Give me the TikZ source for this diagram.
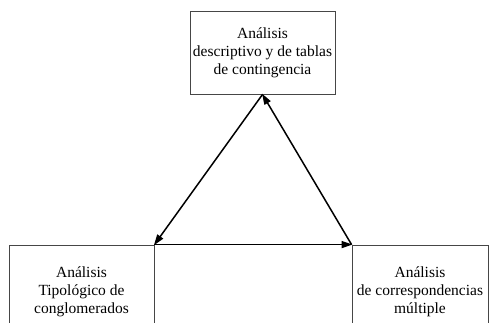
\documentclass[tikz,border=0pt]{standalone}
\usepackage{fontspec}
\setmainfont{Liberation Serif}
\usepackage{tikz}
\usetikzlibrary{positioning, arrows.meta}
\definecolor{boxGray}{RGB}{70, 70, 70}
\tikzset{
    base/.style={
        font=\fontsize{15.5}{18}\selectfont,
        align=center
    },
    block/.style={
        base,
        rectangle,
        draw=boxGray,
        line width=0.9pt,
        inner sep=0pt
    },
    flow/.style={
        -{Triangle[length=11pt, width=7pt]},
        line width=1.5pt,
        color=black,
        shorten >=-1pt
    }
}
\begin{document}
\begin{tikzpicture}[x=1pt, y=-1pt]
  \useasboundingbox (0,0) rectangle (490,322);
  \clip (0,0) rectangle (490,322);

  % Boxes
  \node[block, minimum width=145pt, minimum height=83pt] (desc) at (262.5,52.5)
    {Análisis\\descriptivo y de tablas\\de contingencia};
  \node[block, minimum width=145pt, minimum height=94pt] (tipo) at (81.5,292)
    {Análisis\\Tipológico de\\conglomerados};
  \node[block, minimum width=136pt, minimum height=94pt] (corr) at (420,292)
    {Análisis\\de correspondencias\\múltiple};

  % Cycle
  \draw[flow] (desc.south) -- (tipo.north east);
  \draw[flow] (tipo.north east) -- (corr.north west);
  \draw[flow] (corr.north west) -- (desc.south);
\end{tikzpicture}
\end{document}
